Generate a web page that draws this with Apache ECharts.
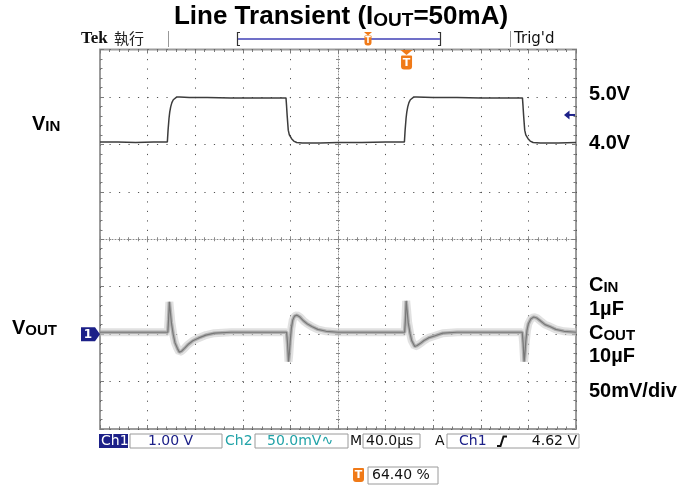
<!DOCTYPE html>
<html><head><meta charset="utf-8">
<script src="https://cdn.jsdelivr.net/npm/echarts@6/dist/echarts.min.js"></script>
<style>html,body{margin:0;padding:0;background:#fff}#c{width:691px;height:488px}</style>
</head><body><div id="c"></div>
<script>
// ---- Scope settings ----
const timeSpanUs = 400;      // 10 div x 40 µs
const triggerPct = 64.40;    // trigger position (% of record)
const triggerLevelV = 4.62;  // Ch1 trigger level
const ch1Range = [-2, 6];    // volts shown (1 V/div, ground 2 div below centre)
const ch2Range = [-100, 300];// mV shown (50 mV/div, AC coupled)

// ---- Ch1 : VIN (time µs from left edge, volts) ----
const vinTime = [0,15,30,45,56.6,57.2,58.0,58.6,59.4,60.4,61.6,63.1,64.6,67,75,90,110,130,150,156.3,156.8,157.3,158.2,159.1,161.0,162.8,165.3,170,185,200,220,240,255.8,256.4,257.2,257.8,258.6,259.6,260.8,262.3,263.8,266,280,300,320,340,355.0,355.5,356.0,356.9,357.8,359.7,361.5,364.0,370,385,400];
const vinVolt = [4.05,4.05,4.04,4.05,4.05,4.30,4.55,4.68,4.79,4.88,4.94,4.98,5.00,5.00,4.99,4.99,4.98,4.98,4.98,4.98,4.80,4.60,4.30,4.20,4.12,4.07,4.04,4.03,4.03,4.04,4.04,4.05,4.05,4.30,4.55,4.68,4.79,4.88,4.94,4.98,5.00,5.00,4.99,4.99,4.98,4.98,4.98,4.80,4.60,4.30,4.20,4.12,4.07,4.04,4.03,4.03,4.04];

// ---- Ch2 : VOUT (time µs, mV, AC coupled) ----
const voutTime = [0,20,40,57.0,57.6,58.3,59.0,60.0,61.5,63,65,66.7,68.5,71,74,78,83,89,96,110,130,156.8,157.6,158.4,159.0,159.8,160.8,162,163.5,165.5,168,171,174,178,183,190,200,220,240,256.0,256.6,257.3,258.0,259,260.5,262,264.5,266.5,269,272,276,281,288,300,320,340,354.8,355.6,356.4,357.0,357.8,358.8,360,362,364.5,367,370,374,378,383,390,400];
const voutMv = [2,2,2,2,15,34,25,12,0,-9,-15,-19,-18,-15,-11,-7,-4,-1,1,2,2,2,-10,-29,-22,-8,6,15,19,20,18,14,11,8,5,3,2,2,2,2,14,35,26,12,1,-7,-13,-12,-10,-7,-4,-2,1,2,2,2,2,-10,-29,-22,-8,4,11,16,18,17,14,10,8,5,3,2];

// ---- Text read-outs ----
const titleMain = ['Line Transient (I', 'OUT', '=50mA)'];
const ch1Scale = '1.00 V';
const ch2Scale = '50.0mV\u223F';
const timeScale = '40.0\u00B5s';
const trigLevelText = '4.62 V';
const trigPosText = '64.40 %';

const NAVY = '#1c2088', TEAL = '#22a3a8', ORANGE = '#f07a18';

const chart = echarts.init(document.getElementById('c'));
const vinData = vinTime.map((t, i) => [t, vinVolt[i]]);
const voutData = voutTime.map((t, i) => [t, voutMv[i]]);

const dotted = {show: true, lineStyle: {color: '#555', width: 1, type: [1.2, 8.29]}};
const noAxis = {axisLabel: {show: false}, axisTick: {show: false}, axisLine: {show: false, onZero: false}};
function tickAxis(o) {
  return Object.assign({
    type: 'value', interval: 1, axisLabel: {show: false}, splitLine: {show: false},
    axisLine: {show: false, onZero: false},
    axisTick: {show: true, inside: true, length: 4, lineStyle: {color: '#7a7a7a'}},
    minorTick: {show: true, splitNumber: 5, length: 2.5, lineStyle: {color: '#7a7a7a'}}
  }, o);
}
const centerLine = {show: true, onZero: true, lineStyle: {color: '#8a8a8a', width: 1, type: [1, 2]}};

const option = {
  animation: false,
  backgroundColor: '#fff',
  grid: {left: 100, right: 115, top: 49.5, bottom: 59, show: true, borderColor: '#9c9c9c', borderWidth: 2, backgroundColor: '#fff'},
  xAxis: [
    Object.assign({type: 'value', min: 0, max: timeSpanUs, interval: 40, splitLine: dotted}, noAxis),
    tickAxis({min: -5, max: 5, position: 'top'}),
    tickAxis({min: -5, max: 5, position: 'bottom'}),
    tickAxis({min: -5, max: 5, position: 'bottom', axisLine: Object.assign({onZeroAxisIndex: 2}, centerLine),
      axisTick: {show: true, inside: true, length: 3, lineStyle: {color: '#8a8a8a'}},
      minorTick: {show: true, splitNumber: 5, length: 2, lineStyle: {color: '#8a8a8a'}}}),
    tickAxis({min: -5, max: 5, position: 'bottom', axisLine: {show: false, onZero: true, onZeroAxisIndex: 2},
      axisTick: {show: true, inside: false, length: 3, lineStyle: {color: '#8a8a8a'}},
      minorTick: {show: true, splitNumber: 5, length: 2, lineStyle: {color: '#8a8a8a'}}})
  ],
  yAxis: [
    Object.assign({type: 'value', min: ch1Range[0], max: ch1Range[1], interval: 1, splitLine: dotted}, noAxis),
    Object.assign({type: 'value', min: ch2Range[0], max: ch2Range[1], interval: 50, splitLine: {show: false}}, noAxis),
    tickAxis({min: -4, max: 4, position: 'left'}),
    tickAxis({min: -4, max: 4, position: 'right'}),
    tickAxis({min: -4, max: 4, position: 'left', axisLine: Object.assign({onZeroAxisIndex: 1}, centerLine),
      axisTick: {show: true, inside: true, length: 3, lineStyle: {color: '#8a8a8a'}},
      minorTick: {show: true, splitNumber: 5, length: 2, lineStyle: {color: '#8a8a8a'}}}),
    tickAxis({min: -4, max: 4, position: 'left', axisLine: {show: false, onZero: true, onZeroAxisIndex: 1},
      axisTick: {show: true, inside: false, length: 3, lineStyle: {color: '#8a8a8a'}},
      minorTick: {show: true, splitNumber: 5, length: 2, lineStyle: {color: '#8a8a8a'}}})
  ],
  series: [
    {type: 'line', xAxisIndex: 0, yAxisIndex: 1, data: voutData, showSymbol: false, silent: true, lineStyle: {color: 'rgba(205,205,205,0.6)', width: 8}, z: 3},
    {type: 'line', xAxisIndex: 0, yAxisIndex: 1, data: voutData, showSymbol: false, silent: true, lineStyle: {color: 'rgba(160,160,160,0.75)', width: 3.5}, z: 4},
    {type: 'line', xAxisIndex: 0, yAxisIndex: 1, data: voutData, showSymbol: false, silent: true, lineStyle: {color: '#787878', width: 1.2}, z: 5},
    {type: 'line', xAxisIndex: 0, yAxisIndex: 0, data: vinData, showSymbol: false, silent: true, lineStyle: {color: '#3c3c3c', width: 1.5}, z: 6}
  ]
};
chart.setOption(option);

// positions of scope markers derived from the axes
const trigX = chart.convertToPixel({xAxisIndex: 0}, timeSpanUs * triggerPct / 100);
const trigY = chart.convertToPixel({yAxisIndex: 0}, triggerLevelV);
const gndY = chart.convertToPixel({yAxisIndex: 0}, 0);
const gridTop = 49.5;

const B = 'Liberation Sans';
const D = 'DejaVu Sans';
function txt(x, y, text, size, fill, opts) {
  return {type: 'text', x: x, y: y, z: 100, style: Object.assign({text: text, fontSize: size, fontFamily: D, fill: fill, align: 'left', verticalAlign: 'middle'}, opts || {})};
}
function smallCaps(x, y, big, small) {
  return {type: 'text', x: x, y: y, z: 100, style: {text: '{a|' + big + '}{b|' + small + '}', align: 'left', verticalAlign: 'middle',
    rich: {a: {fontSize: 20, fontWeight: 'bold', fontFamily: B, fill: '#000', verticalAlign: 'bottom'},
           b: {fontSize: 15, fontWeight: 'bold', fontFamily: B, fill: '#000', verticalAlign: 'bottom'}}}};
}
function box(x1, x2, y1, y2) {
  return {type: 'rect', z: 90, shape: {x: x1, y: y1, width: x2 - x1, height: y2 - y1}, style: {fill: '#fff', stroke: '#9a9a9a', lineWidth: 1}};
}
function tBadge(cx, top, w, h, fs) {
  return [
    {type: 'rect', z: 95, shape: {x: cx - w / 2, y: top, width: w, height: h, r: [1, 1, 3, 3]}, style: {fill: ORANGE}},
    {type: 'text', z: 96, x: cx, y: top + h / 2 + 0.5, style: {text: 'T', fontSize: fs, fontWeight: 'bold', fontFamily: D, fill: '#fff', align: 'center', verticalAlign: 'middle'}}
  ];
}
const rowY = 441, rowT = 434, rowB = 448;

const g = [
  // title
  {type: 'text', x: 341, y: 17, z: 100, style: {text: '{a|' + titleMain[0] + '}{b|' + titleMain[1] + '}{a|' + titleMain[2] + '}', align: 'center', verticalAlign: 'middle',
    rich: {a: {fontSize: 26, fontWeight: 'bold', fontFamily: B, fill: '#000', verticalAlign: 'bottom'}, b: {fontSize: 19, fontWeight: 'bold', fontFamily: B, fill: '#000', verticalAlign: 'bottom'}}}},
  // top bar
  txt(81, 38.5, 'Tek', 17, '#111', {fontWeight: 'bold', fontFamily: 'Liberation Serif'}),
  txt(114, 38.5, '執行', 15, '#222', {fontFamily: 'Noto Sans CJK TC'}),
  {type: 'line', z: 90, shape: {x1: 168.5, y1: 31, x2: 168.5, y2: 47}, style: {stroke: '#999', lineWidth: 1}},
  {type: 'line', z: 90, shape: {x1: 510.5, y1: 31, x2: 510.5, y2: 47}, style: {stroke: '#999', lineWidth: 1}},
  {type: 'polyline', z: 90, shape: {points: [[240, 32.5], [237.5, 32.5], [237.5, 45.5], [240, 45.5]]}, style: {stroke: '#333', lineWidth: 1.2, fill: null}},
  {type: 'polyline', z: 90, shape: {points: [[438, 32.5], [440.5, 32.5], [440.5, 45.5], [438, 45.5]]}, style: {stroke: '#333', lineWidth: 1.2, fill: null}},
  {type: 'line', z: 91, shape: {x1: 238, y1: 39, x2: 440, y2: 39}, style: {stroke: '#7070c8', lineWidth: 2}},
  {type: 'polygon', z: 95, shape: {points: [[364, 32], [372, 32], [368, 35.5]]}, style: {fill: ORANGE}},
  ...tBadge(368, 35.5, 7, 10, 8),
  txt(514, 39, "Trig'd", 15, '#111'),
  // trigger position marker
  {type: 'polygon', z: 95, shape: {points: [[trigX - 6, gridTop + 0.5], [trigX + 6, gridTop + 0.5], [trigX, gridTop + 5.5]]}, style: {fill: ORANGE}},
  ...tBadge(trigX, gridTop + 6, 11, 14, 11),
  // trigger level arrow (right)
  {type: 'polygon', z: 95, shape: {points: [[564, trigY], [569.5, trigY - 4.5], [569.5, trigY + 4.5]]}, style: {fill: NAVY}},
  {type: 'line', z: 95, shape: {x1: 569, y1: trigY, x2: 575, y2: trigY}, style: {stroke: NAVY, lineWidth: 2}},
  // Ch1 ground marker (left)
  {type: 'polygon', z: 95, shape: {points: [[81, gndY - 7], [95, gndY - 7], [100, gndY], [95, gndY + 7], [81, gndY + 7]]}, style: {fill: NAVY}},
  {type: 'text', z: 96, x: 88, y: gndY + 0.5, style: {text: '1', fontSize: 12, fontWeight: 'bold', fontFamily: D, fill: '#fff', align: 'center', verticalAlign: 'middle'}},
  // right side labels
  txt(589, 94.5, '5.0V', 20, '#000', {fontWeight: 'bold', fontFamily: B}),
  txt(589, 143.5, '4.0V', 20, '#000', {fontWeight: 'bold', fontFamily: B}),
  smallCaps(589, 285, 'C', 'IN'),
  txt(589, 309, '1\u00B5F', 20, '#000', {fontWeight: 'bold', fontFamily: B}),
  smallCaps(589, 333, 'C', 'OUT'),
  txt(589, 356.5, '10\u00B5F', 20, '#000', {fontWeight: 'bold', fontFamily: B}),
  txt(589, 391, '50mV/div', 20, '#000', {fontWeight: 'bold', fontFamily: B}),
  // left labels
  smallCaps(32, 124, 'V', 'IN'),
  smallCaps(12, 328, 'V', 'OUT'),
  // status row
  {type: 'rect', z: 90, shape: {x: 99, y: rowT, width: 29, height: rowB - rowT}, style: {fill: NAVY}},
  txt(101, rowY, 'Ch1', 14, '#fff'),
  box(130, 222, rowT, rowB), txt(148, rowY, ch1Scale, 14, NAVY),
  txt(225, rowY, 'Ch2', 14, TEAL),
  box(255, 348, rowT, rowB), txt(267, rowY, ch2Scale, 14, TEAL),
  txt(350, rowY, 'M', 14, '#111'),
  box(363, 420, rowT, rowB), txt(366, rowY, timeScale, 14, '#111'),
  txt(435, rowY, 'A', 14, '#111'),
  box(447, 579, rowT, rowB), txt(459, rowY, 'Ch1', 14, NAVY),
  {type: 'polyline', z: 95, shape: {points: [[497, 446], [500.5, 446], [503.5, 436.5], [507, 436.5]]}, style: {stroke: '#111', lineWidth: 2, fill: null}},
  txt(577, rowY, trigLevelText, 14, '#111', {align: 'right'}),
  // trigger position read-out
  ...tBadge(358.5, 468, 11, 14, 11),
  box(368, 438, 467, 484), txt(372, 475.5, trigPosText, 14, '#111')
];
chart.setOption({graphic: g});
</script>
</body></html>
